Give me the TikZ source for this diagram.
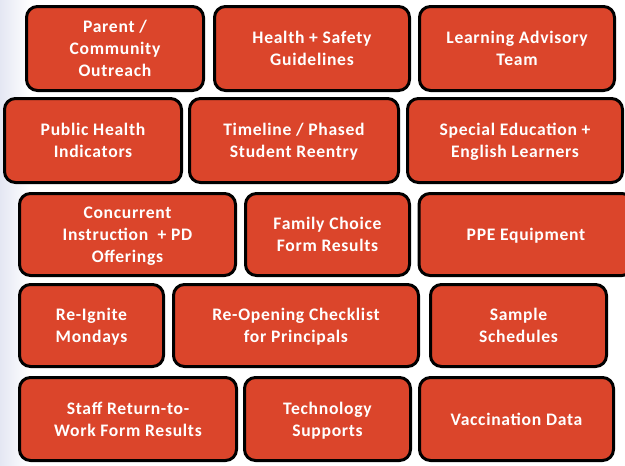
\documentclass[tikz,border=0pt]{standalone}
\usepackage{fontspec}
\setmainfont{Carlito}[LetterSpace=4]
\definecolor{tileorange}{RGB}{219,69,43}
\definecolor{bgblue}{RGB}{228,231,243}
\begin{document}
\begin{tikzpicture}[x = 1pt, y = -1pt,
    tile/.style = {draw = black, line width = 3pt, fill = tileorange,
      rounded corners = 11pt, text = white, align = center, inner sep = 0pt,
      text depth = 0pt, font = \fontsize{17.6}{22}\selectfont\bfseries,
      minimum height = 84pt}]
  \useasboundingbox (0,0) rectangle (625,466);
  \clip (0,0) rectangle (625,466);
  \shade [left color = bgblue, right color = white] (0,0) rectangle (30,466);
  % row 1
  \node [tile, minimum width = 177pt] (outreach) at (115,48.5) {Parent /\\ Community\\ Outreach};
  \node [tile, minimum width = 195pt] (safety) at (312,48.5) {Health + Safety\\ Guidelines};
  \node [tile, minimum width = 195pt] (advisory) at (517,48.5) {Learning Advisory\\ Team};
  % row 2
  \node [tile, minimum width = 177pt] (indicators) at (93,140.5) {Public Health\\ Indicators};
  \node [tile, minimum width = 209pt] (timeline) at (294,140.5) {Timeline / Phased\\ Student Reentry};
  \node [tile, minimum width = 215pt] (sped) at (515,140.5) {Special Education +\\ English Learners};
  % row 3
  \node [tile, minimum width = 216pt, minimum height = 82pt] (concurrent) at (127.5,234.5) {Concurrent\\ Instruction~ + PD\\ Offerings};
  \node [tile, minimum width = 164pt, minimum height = 82pt] (choice) at (327.5,234.5) {Family Choice\\ Form Results};
  \node [tile, minimum width = 214pt, minimum height = 82pt] (ppe) at (526,234.5) {PPE Equipment};
  % row 4
  \node [tile, minimum width = 144pt, minimum height = 82pt] (reignite) at (91.5,325.5) {Re-Ignite\\ Mondays};
  \node [tile, minimum width = 245pt, minimum height = 82pt] (checklist) at (296,325.5) {Re-Opening Checklist\\ for Principals};
  \node [tile, minimum width = 176pt, minimum height = 82pt] (schedules) at (518.5,325.5) {Sample\\ Schedules};
  % row 5
  \node [tile, minimum width = 217pt, minimum height = 83pt] (staff) at (128,419) {Staff Return-to-\\ Work Form Results};
  \node [tile, minimum width = 166pt, minimum height = 83pt] (tech) at (327.5,419) {Technology\\ Supports};
  \node [tile, minimum width = 194pt, minimum height = 83pt] (vaccine) at (516.5,419) {Vaccination Data};
\end{tikzpicture}
\end{document}
